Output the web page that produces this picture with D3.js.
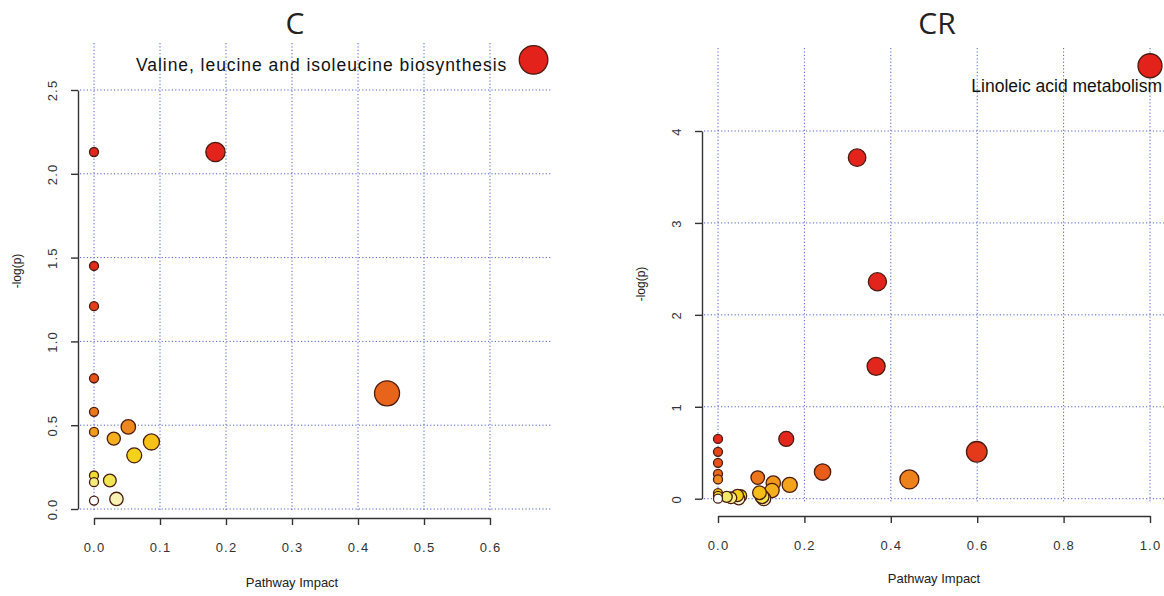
<!DOCTYPE html>
<html>
<head>
<meta charset="utf-8">
<script src="https://cdn.jsdelivr.net/npm/d3@7"></script>
<style>
  body { margin: 0; background: #fff; }
  svg { display: block; }
  text { font-family: "Liberation Sans", Arial, sans-serif; fill: #222; }
</style>
</head>
<body>
<svg id="chart" width="1164" height="596"></svg>
<script>
// panel C : pathway impact vs -log(p)
var cImpact = [0.666, 0.184, 0.000, 0.000, 0.000, 0.000, 0.444, 0.000, 0.052, 0.000,
               0.030, 0.087, 0.061, 0.000, 0.024, 0.000, 0.034, 0.000];
var cLogP   = [2.68, 2.13, 2.13, 1.45, 1.21, 0.78, 0.69, 0.58, 0.49, 0.46,
               0.42, 0.40, 0.32, 0.20, 0.17, 0.16, 0.06, 0.05];
var cXTicks = [0, 0.1, 0.2, 0.3, 0.4, 0.5, 0.6];
var cYTicks = [0, 0.5, 1.0, 1.5, 2.0, 2.5];
var cLabels = ["Valine, leucine and isoleucine biosynthesis"];

// panel CR
var crImpact = [1.000, 0.322, 0.369, 0.366, 0.158, 0.000, 0.599, 0.000, 0.000, 0.242,
                0.000, 0.092, 0.443, 0.000, 0.128, 0.166, 0.125, 0.096, 0.000, 0.045,
                0.052, 0.000, 0.102, 0.020, 0.030, 0.106, 0.048, 0.000];
var crLogP   = [4.71, 3.71, 2.36, 1.44, 0.65, 0.65, 0.51, 0.51, 0.39, 0.29,
                0.27, 0.23, 0.21, 0.21, 0.17, 0.15, 0.09, 0.065, 0.06, 0.035,
                0.03, 0.03, 0.022, 0.02, 0.01, 0.0, 0.0, 0.0];
var crXTicks = [0, 0.2, 0.4, 0.6, 0.8, 1.0];
var crYTicks = [0, 1, 2, 3, 4];
var crLabels = ["Linoleic acid metabolism"];

var svg = d3.select("#chart");

var gridColor = "#5262cc",
    axisColor = "#333",
    ptStroke  = "#4a1c10";

// heat colours by rank, red -> orange -> yellow -> white
var heat = d3.scaleLinear()
    .domain([0, 0.18, 0.25, 0.33, 0.42, 0.5, 0.6, 0.68, 0.75, 0.85, 0.93, 1])
    .range(["#e3221c", "#e3281c", "#e4441b", "#e75c1a", "#ec7a1b", "#f0901c",
            "#f5b41c", "#f8cc14", "#ecdc28", "#f0ea60", "#f6f0a6", "#ffffff"]);

var panels = [
    { title: "C", tx: 295, impact: cImpact, logp: cLogP, xTicks: cXTicks, yTicks: cYTicks,
      xFmt: d3.format(".1f"), yFmt: d3.format(".1f"),
      x0: 94, x1: 490, y0: 509, y1: 90, yAxisX: 78, xAxisY: 518,
      gridL: 80, gridR: 551, gridT: 43, gridB: 512, rMax: 9.8,
      xTitleY: 587, yTitleX: 17, yTitleY: 271,
      labels: cLabels, labelDx: -12, labelDy: 11, labelSide: -1, labelSpacing: "0.95px" },
    { title: "CR", tx: 937, impact: crImpact, logp: crLogP, xTicks: crXTicks, yTicks: crYTicks,
      xFmt: d3.format(".1f"), yFmt: d3.format("d"),
      x0: 718, x1: 1150, y0: 498.7, y1: 131, yAxisX: 702, xAxisY: 516,
      gridL: 704, gridR: 1170, gridT: 48, gridB: 503, rMax: 7.5,
      xTitleY: 583, yTitleX: 641, yTitleY: 284,
      labels: crLabels, labelDx: 12, labelDy: 26, labelSide: 0, labelSpacing: "0px" }
];

panels.forEach(function(p) {

    var x = d3.scaleLinear()
        .domain([p.xTicks[0], p.xTicks[p.xTicks.length - 1]])
        .range([p.x0, p.x1]);
    var y = d3.scaleLinear()
        .domain([p.yTicks[0], p.yTicks[p.yTicks.length - 1]])
        .range([p.y0, p.y1]);
    var r = d3.scaleSqrt()
        .domain([0, d3.max(p.impact)])
        .range([4.5, 4.5 + p.rMax]);

    var g = svg.append("g");

    // title
    g.append("text")
        .attr("x", p.tx)
        .attr("y", 34)
        .attr("text-anchor", "middle")
        .style("font-family", "'Open Sans', sans-serif")
        .style("font-size", "30px")
        .text(p.title);

    // dotted grid
    g.selectAll(".vgrid")
        .data(p.xTicks)
        .enter().append("line")
        .attr("x1", function(d) { return x(d); })
        .attr("x2", function(d) { return x(d); })
        .attr("y1", p.gridT)
        .attr("y2", p.gridB)
        .style("stroke", gridColor)
        .style("stroke-width", 1)
        .style("stroke-dasharray", "1.2,2.2");

    g.selectAll(".hgrid")
        .data(p.yTicks)
        .enter().append("line")
        .attr("x1", p.gridL)
        .attr("x2", p.gridR)
        .attr("y1", function(d) { return y(d); })
        .attr("y2", function(d) { return y(d); })
        .style("stroke", gridColor)
        .style("stroke-width", 1)
        .style("stroke-dasharray", "1.2,2.2");

    // axes
    var xa = g.append("g")
        .attr("transform", "translate(0," + p.xAxisY + ")")
        .call(d3.axisBottom(x).tickValues(p.xTicks).tickFormat(p.xFmt).tickSize(7).tickSizeOuter(0));
    xa.selectAll("text")
        .attr("y", 25)
        .style("font-size", "13px")
        .style("letter-spacing", "1.2px");

    var ya = g.append("g")
        .attr("transform", "translate(" + p.yAxisX + ",0)")
        .call(d3.axisLeft(y).tickValues(p.yTicks).tickFormat(p.yFmt).tickSize(7).tickSizeOuter(0));
    ya.selectAll("text")
        .attr("transform", "rotate(-90)")
        .attr("x", 0)
        .attr("y", -21.5)
        .attr("dy", 0)
        .attr("text-anchor", "middle")
        .style("font-size", "13px")
        .style("letter-spacing", "1.2px");

    [xa, ya].forEach(function(a) {
        a.select(".domain").style("stroke", axisColor).style("stroke-width", 1.4);
        a.selectAll(".tick line").style("stroke", axisColor).style("stroke-width", 1.4);
        a.selectAll("text").style("fill", "#333").style("font-family", "'Liberation Sans', Arial, sans-serif");
    });

    // axis titles
    g.append("text")
        .attr("x", (p.x0 + p.x1) / 2)
        .attr("y", p.xTitleY)
        .attr("text-anchor", "middle")
        .style("font-size", "13px")
        .text("Pathway Impact");

    g.append("text")
        .attr("transform", "translate(" + (p.yTitleX + 4) + "," + p.yTitleY + ") rotate(-90)")
        .attr("text-anchor", "middle")
        .style("font-size", "12px")
        .text("-log(p)");

    // points, coloured by rank of -log(p)
    var pts = p.impact.map(function(v, i) { return { x: v, y: p.logp[i], i: i }; });
    var order = pts.slice().sort(function(a, b) { return b.y - a.y; });
    order.forEach(function(d, k) { d.t = k / (order.length - 1); });

    // small ones drawn last so they sit on top
    g.selectAll(".pt")
        .data(pts.slice().sort(function(a, b) { return b.x - a.x; }))
        .enter().append("circle")
        .attr("cx", function(d) { return x(d.x); })
        .attr("cy", function(d) { return y(d.y); })
        .attr("r", function(d) { return r(d.x); })
        .style("fill", function(d) { return heat(d.t); })
        .style("stroke", ptStroke)
        .style("stroke-width", 1.3);

    // label for the top pathway
    p.labels.forEach(function(name, i) {
        var d = pts[i];
        var lx = p.labelSide < 0 ? x(d.x) - r(d.x) + p.labelDx : x(d.x) + p.labelDx;
        g.append("text")
            .attr("x", lx)
            .attr("y", y(d.y) + p.labelDy)
            .attr("text-anchor", "end")
            .style("font-size", "17.5px")
            .style("letter-spacing", p.labelSpacing)
            .style("fill", "#111")
            .text(name);
    });
});
</script>
</body>
</html>
